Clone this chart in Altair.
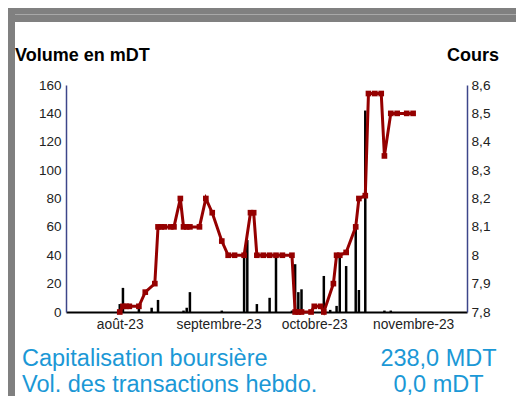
import altair as alt
import pandas as pd

# ---------------- data ----------------
price_dates = [
    "2023-08-01", "2023-08-02", "2023-08-03", "2023-08-04", "2023-08-07",
    "2023-08-09", "2023-08-12", "2023-08-13", "2023-08-14", "2023-08-15",
    "2023-08-17", "2023-08-18", "2023-08-20", "2023-08-21", "2023-08-22",
    "2023-08-23", "2023-08-26", "2023-08-28", "2023-08-30", "2023-09-02",
    "2023-09-04", "2023-09-06", "2023-09-09", "2023-09-11", "2023-09-12",
    "2023-09-13", "2023-09-15", "2023-09-17", "2023-09-19", "2023-09-21",
    "2023-09-24", "2023-09-25", "2023-09-26", "2023-09-27", "2023-09-30",
    "2023-10-01", "2023-10-03", "2023-10-04", "2023-10-07", "2023-10-08",
    "2023-10-09", "2023-10-11", "2023-10-14", "2023-10-15", "2023-10-17",
    "2023-10-18", "2023-10-20", "2023-10-22", "2023-10-23", "2023-10-25",
    "2023-10-27", "2023-10-30", "2023-11-01",
]
prices = [
    7.80, 7.82, 7.82, 7.82, 7.82,
    7.87, 7.90, 8.10, 8.10, 8.10,
    8.10, 8.10, 8.20, 8.10, 8.10,
    8.10, 8.10, 8.20, 8.15, 8.05,
    8.00, 8.00, 8.00, 8.15, 8.15,
    8.00, 8.00, 8.00, 8.00, 8.00,
    8.00, 7.80, 7.80, 7.80, 7.80,
    7.82, 7.82, 7.80, 7.90, 8.00,
    8.00, 8.01, 8.10, 8.20, 8.21,
    8.57, 8.57, 8.57, 8.35, 8.50,
    8.50, 8.50, 8.50,
]

vol_dates = [
    "2023-08-01", "2023-08-02", "2023-08-07", "2023-08-11", "2023-08-13",
    "2023-08-21", "2023-08-22", "2023-08-23", "2023-09-02", "2023-09-09",
    "2023-09-10", "2023-09-13", "2023-09-17", "2023-09-19", "2023-09-24",
    "2023-09-25", "2023-09-26", "2023-09-27", "2023-10-04", "2023-10-06",
    "2023-10-08", "2023-10-09", "2023-10-11", "2023-10-14", "2023-10-15",
    "2023-10-17", "2023-10-23", "2023-10-25",
]
volumes = [
    5.6, 17, 2.5, 3, 8.5,
    1, 3, 14, 1, 38.5,
    50.7, 5.6, 10, 38.5, 1,
    33.7, 14, 16, 25.4, 1.5,
    4.3, 40, 32.4, 59, 15.5,
    142, 1, 1,
]

month_ticks = ["2023-08-01", "2023-09-01", "2023-10-01", "2023-11-01"]
month_labels = ["août-23", "septembre-23", "octobre-23", "novembre-23"]
left_ticks = [0, 20, 40, 60, 80, 100, 120, 140, 160]
right_ticks = [7.8, 7.9, 8.0, 8.1, 8.2, 8.3, 8.4, 8.5, 8.6]

left_title = "Volume en mDT"
right_title = "Cours"
info_labels = ["Capitalisation boursière", "Vol. des transactions hebdo."]
info_values = ["238,0 MDT", "0,0 mDT"]

# ---------------- styling ----------------
FONT = "Liberation Sans"
RED = "#950000"
NAVY = "#3d468a"
BLUE = "#1b98d6"
GREY = "#808080"


def ms(s):
    return int(pd.Timestamp(s, tz="UTC").timestamp() * 1000)


x_scale = alt.Scale(type="utc", domain=[ms("2023-07-16T17:00"), ms("2023-11-16T08:00")])

price_df = pd.DataFrame({"date": price_dates, "cours": prices})
vol_df = pd.DataFrame({"date": vol_dates, "volume": volumes})
one = pd.DataFrame({"k": [0]})

# month label expression built from the label list
label_expr = "''"
for d, lab in reversed(list(zip(month_ticks, month_labels))):
    label_expr = f"utcmonth(datum.value) == {pd.Timestamp(d).month - 1} ? '{lab}' : ({label_expr})"

x_axis = alt.Axis(
    values=[ms(d) for d in month_ticks],
    labelExpr=label_expr,
    ticks=False,
    grid=False,
    title=None,
    domainColor="black",
    domainWidth=2,
    labelFont=FONT,
    labelFontSize=13.8,
    labelColor="#222222",
    labelPadding=5,
)

bars = alt.Chart(vol_df).mark_bar(color="black", size=2.5).encode(
    x=alt.X("date:T", scale=x_scale, axis=x_axis),
    y=alt.Y(
        "volume:Q",
        scale=alt.Scale(domain=[0, 160], nice=False),
        axis=alt.Axis(
            orient="left",
            values=left_ticks,
            ticks=False,
            grid=False,
            title=None,
            domainColor=NAVY,
            domainWidth=1.5,
            labelFont=FONT,
            labelFontSize=13.5,
            labelColor="#222222",
            labelPadding=5,
        ),
    ),
)

line = alt.Chart(price_df).mark_line(
    color=RED,
    strokeWidth=3,
    point=alt.OverlayMarkDef(shape="square", size=32, filled=True, color=RED, opacity=1),
).encode(
    x=alt.X("date:T", scale=x_scale, axis=x_axis),
    y=alt.Y(
        "cours:Q",
        scale=alt.Scale(domain=[7.8, 8.6], nice=False, zero=False),
        axis=alt.Axis(
            orient="right",
            values=right_ticks,
            labelExpr="replace(format(datum.value, '~g'), '.', ',')",
            ticks=False,
            grid=False,
            title=None,
            domainColor=NAVY,
            domainWidth=1.5,
            labelFont=FONT,
            labelFontSize=13.7,
            labelColor="#222222",
            labelPadding=4,
        ),
    ),
)


def rect(x1, x2, y1, y2, color):
    return alt.Chart(one).mark_rect(color=color).encode(
        x=alt.value(x1), x2=alt.value(x2), y=alt.value(y1), y2=alt.value(y2)
    )


def txt(s, x, y, size, color, weight="normal", align="left"):
    return alt.Chart(one).mark_text(
        text=s, font=FONT, fontSize=size, fontWeight=weight, color=color,
        align=align, baseline="alphabetic",
    ).encode(x=alt.value(x), y=alt.value(y))


deco = [
    rect(-58, 450, -77, -63, GREY),
    rect(-58, 450, -71, -70, "#a8a8a8"),
    rect(-58, -51, -77, 311, GREY),
]

texts = [
    txt(left_title, -51, -24, 18, "black", "bold"),
    txt(right_title, 433, -24, 18, "black", "bold", "right"),
    txt(info_labels[0], -44, 281, 23.5, BLUE),
    txt(info_labels[1], -44, 306.5, 23.5, BLUE),
    txt(info_values[0], 372.5, 281, 23.5, BLUE, align="center"),
    txt(info_values[1], 372.5, 306.5, 23.5, BLUE, align="center"),
]

chart = alt.layer(*deco, bars, line, *texts).resolve_scale(y="independent").properties(
    width=401,
    height=227,
    autosize=alt.AutoSizeParams(type="none"),
    padding={"left": 58, "top": 77, "right": 49, "bottom": 84},
).configure_view(stroke=None)

chart.save("out.html", embed_options={"renderer": "svg", "actions": False})
